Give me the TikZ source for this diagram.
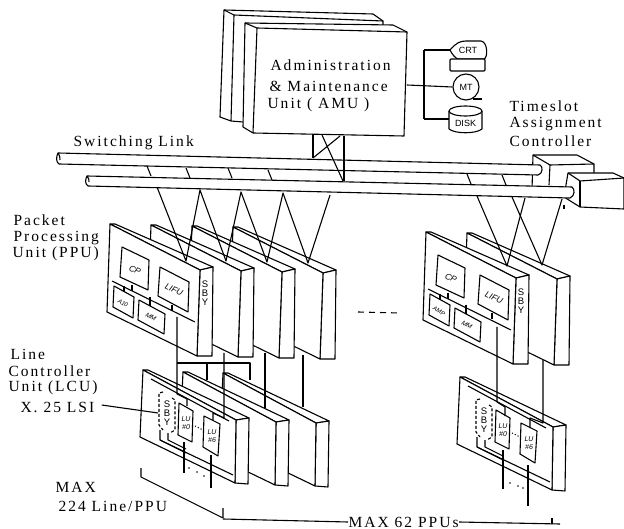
\documentclass[tikz,border=0pt]{standalone}
\usepackage{fontspec}
\usepackage{tikz}
\usetikzlibrary{positioning}
\newfontfamily\lblfont[LetterSpace=13]{Liberation Serif}
\newfontfamily\tagfont{Liberation Sans}

\begin{document}
\begin{tikzpicture}[x=1pt, y=-1pt, line width=1.1pt, line join=round,
    lbl/.style={font=\lblfont\fontsize{15.5}{17}\selectfont, inner sep=0pt, anchor=west},
    tag/.style={font=\tagfont\itshape\fontsize{8.5}{9}\selectfont, inner sep=0pt},
    stk/.style={font=\tagfont\fontsize{9.5}{10}\selectfont, inner sep=0pt, align=center},
    dev/.style={font=\tagfont\fontsize{9}{10}\selectfont, inner sep=0pt},
    face/.style={draw, fill=white}]
\useasboundingbox (0,0) rectangle (624,529);
\fill[white] (0,0) rectangle (624,529);
%%-- Timeslot boxes --------------------------------------
\draw[face] (533,155) -- (577,155) -- (594,164) -- (594,190) -- (532,190) -- cycle;
\draw (550,165) -- (594,164);
\draw (533,155) -- (550,165) -- (549,185);
\draw[face] (568,173) -- (613,173) -- (624,178) -- (624,209) -- (580,207) -- (564,197) -- cycle;
\draw (568,173) -- (580,181) -- (624,178);
\draw (580,181) -- (580,207);
\draw (564,205) -- (564,209);
%%-- Rails -----------------------------------------------
\draw[face] (58,153) .. controls (56,157) and (56,162) .. (59,164) -- (538,175)
  .. controls (543,174) and (543,166) .. (540,165) -- cycle;
\draw (58,153) .. controls (60,156) and (60,158) .. (60,160);
\foreach \x/\y in {147/166,186/168,228/168,268/170,467/174,502/175}
  \draw (\x,\y) -- ++(4,10);
\draw[face] (87,176) .. controls (85,180) and (85,184) .. (88,186) -- (570,198)
  .. controls (575,196) and (575,189) .. (572,187) -- cycle;
\draw (87,176) .. controls (89,178) and (89,180) .. (89,182);
%%-- AMU stack -------------------------------------------
\draw[face] (224,10) -- (373,14) -- (383,21) -- (383,60) -- (243,122) -- (231,121) -- (220,117) -- cycle;
\draw (224,10) -- (234,15) -- (383,21);
\draw (234,15) -- (231,121);
\draw[face] (245,23) -- (393,25) -- (407,32) -- (404,136) -- (253,133) -- (243,127) -- cycle;
\draw (245,23) -- (257,28) -- (407,32);
\draw (257,28) -- (253,133);
\node[lbl] (amua) at (270,65) {Administration};
\node[lbl] (amub) at (269,86) {\& Maintenance};
\node[lbl] (amuc) at (267,105) {Unit ( AMU )};
%%-- AMU drop lines --------------------------------------
\draw (313,134) -- (313,158);
\draw (344,136) -- (344,181);
\draw (322,135) -- (343,181);
\draw (340,136) -- (313,158);
%%-- Peripherals -----------------------------------------
\coordinate (amuport) at (407,85);
\coordinate (busjoint) at (424,85);
\draw[face] (450,50) .. controls (456,43) and (460,41) .. (466,41) -- (481,41)
  .. controls (488,42) and (488,58) .. (484,59) -- (458,59) .. controls (455,58) and (452,54) .. (450,50) -- cycle;
\node[dev] (crt) at (468,50) {CRT};
\draw[face, rounded corners=1pt] (450,59) rectangle (485,71);
\node[dev, draw, circle, minimum size=26pt] (mt) at (466,87) {MT};
\draw (473,99) -- (482,99);
\draw[face] (449,111) -- (449,129) .. controls (455,134) and (476,134) .. (482,129) -- (482,111);
\draw[face] (465.5,111) ellipse (16.5 and 5);
\node[dev] (disk) at (465.5,123) {DISK};
\draw (amuport) -- (mt.west);
\draw (424,50) -- (424,119);
\draw (424,50) -- (450,50);
\draw (424,119) -- (449,119);
%%-- Link labels -----------------------------------------
\node[lbl] (swlink) at (73,143) {Switching Link};
\node[lbl] (tasa) at (509,106) {Timeslot};
\node[lbl] (tasb) at (509,124) {Assignment};
\node[lbl] (tasc) at (509,141) {Controller};
\node[lbl] (ppua) at (13,220) {Packet};
\node[lbl] (ppub) at (13,238) {Processing};
\node[lbl] (ppuc) at (12,254) {Unit (PPU)};
\node[lbl] (lcua) at (10,354) {Line};
\node[lbl] (lcub) at (8,371) {Controller};
\node[lbl] (lcuc) at (8,388) {Unit (LCU)};
\node[lbl] (lcud) at (20,407) {X. 25 LSI};
\node[lbl] (maxa) at (55,487) {MAX};
\node[lbl] (maxb) at (58,506) {224 Line/PPU};
\node[lbl] (maxc) at (348,522) {MAX 62 PPUs};
%%-- PPU cards, back to front ----------------------------
\foreach \dx/\dy in {123/3,82/2,41/1,0/0,357/9,316/8}{
  \begin{scope}[shift={(\dx,\dy)}]
    \draw[face] (110,224) -- (115,224) -- (213,267) -- (200,270) -- cycle;
    \draw[face] (200,270) -- (213,267) -- (212,356) -- (197,356) -- cycle;
    \draw[face] (110,224) -- (200,270) -- (197,356) -- (107,312) -- cycle;
  \end{scope}
}
%%-- PPU front details -----------------------------------
\foreach \dx/\dy/\lx/\amlbl in {0/0/0/A10,316/8/4/AMP}{
  \begin{scope}[shift={(\dx,\dy)}]
    \draw (112,281) -- (195,322);
    \draw[face] (122,247) -- (149,260) -- (148,290) -- (120,277) -- cycle;
    \draw[face] (160+\lx,267) -- (189+\lx,282) -- (188+\lx,312) -- (158+\lx,296) -- cycle;
    \draw[face] (114,286) -- (134,297) -- (133,318) -- (113,307) -- cycle;
    \draw[face] (139,300) -- (165,314) -- (164,334) -- (138,320) -- cycle;
    \draw (132,285) -- (132,291);
    \draw (124,286) -- (124,292);
    \draw (150,297) -- (150,306);
    \draw (172+\lx,305) -- (172+\lx,311);
    \node[tag, rotate=-25] (cp\dx) at (135,270) {CP};
    \node[tag, rotate=-25] (lifu\dx) at (174+\lx,290) {LIFU};
    \node[tag, rotate=-30, font=\tagfont\itshape\fontsize{6}{7}\selectfont] (aio\dx) at (123,303) {\amlbl};
    \node[tag, rotate=-30, font=\tagfont\itshape\fontsize{6.5}{7}\selectfont] (mm\dx) at (151,317) {MM};
    \node[stk] (sby\dx) at (205,293) {S\\[-1pt]B\\[-1pt]Y};
  \end{scope}
}
%%-- Lines from lower rail to PPU ------------------------
\coordinate (pa) at (186,261);
\coordinate (pb) at (226,261);
\coordinate (pc) at (267,262);
\coordinate (pd) at (308,263);
\coordinate (qa) at (507,266);
\coordinate (qb) at (542,265);
\draw (157,187) -- (pa) -- (200,190) -- (pb) -- (241,192) -- (pc) -- (283,193) -- (pd) -- (330,195);
\draw (477,196) -- (qa) -- (525,198);
\draw (512,197) -- (qb) -- (562,199);
%%-- LCU cards, back to front ----------------------------
\foreach \dx/\dy in {80/3,40/2,0/0,317/7}{
  \begin{scope}[shift={(\dx,\dy)}]
    \draw[face] (143,370) -- (148,370) -- (249,418) -- (236,420) -- cycle;
    \draw[face] (236,420) -- (249,418) -- (248,484) -- (235,483) -- cycle;
    \draw[face] (143,370) -- (236,420) -- (235,483) -- (140,437) -- cycle;
  \end{scope}
}
%%-- LCU front details -----------------------------------
\foreach \dx/\dy in {0/0,317/7}{
  \begin{scope}[shift={(\dx,\dy)}]
    \draw (151,379) -- (229,421);
    \draw[dashed, dash pattern=on 3pt off 2pt] (163,392) -- (159,393) -- (159,425) -- (163,430);
    \draw[dashed, dash pattern=on 3pt off 2pt] (172,398) -- (175,400) -- (175,430) -- (170,433);
    \node[stk] (sbyl\dx) at (167,413) {S\\[-1pt]B\\[-1pt]Y};
    \draw (160,430) -- (160,440) -- (233,475);
    \draw (168,433) -- (168,440) -- (186,449);
    \draw (160,440) -- (186,453);
    \draw[face] (179,403) -- (193,411) -- (192,442) -- (178,435) -- cycle;
    \draw[face] (204,416) -- (220,424) -- (218,456) -- (203,447) -- cycle;
    \node[tag, font=\tagfont\itshape\fontsize{7}{8}\selectfont, align=center] (lua\dx) at (186,423) {LU\\\#0};
    \node[tag, font=\tagfont\itshape\fontsize{7}{8}\selectfont, align=center] (lub\dx) at (212,436) {LU\\\#6};
    \draw[dotted] (195,426) -- (203,430);
  \end{scope}
}
%%-- PPU to LCU wires ------------------------------------
\draw (177,317) -- (177,394) -- (187,399) -- (187,406);
\draw (177,363) -- (250,363) -- (250,380);
\draw (207,363) -- (207,380);
\draw (224,353) -- (224,418) -- (213,413) -- (213,420);
\draw (265,353) -- (265,408);
\draw (303,355) -- (303,407);
\draw (497,327) -- (497,402) -- (505,407) -- (505,416);
\draw (543,360) -- (543,423) -- (530,418) -- (530,428);
%%-- Line drops ------------------------------------------
\draw (184,442) -- (184,473);
\draw (211,455) -- (211,488);
\draw (503,450) -- (503,489);
\draw (528,465) -- (528,506);
\foreach \x/\y in {189/468,197/472,204/476,510/483,518/486,523/488}
  \fill (\x,\y) circle (0.8);
%%-- Annotations -----------------------------------------
\draw (lcud.east) ++(7,-2) -- (158,413);
\draw[dashed, dash pattern=on 6pt off 5pt] (358,312) -- (400,313);
\draw (141,468) -- (141,477) -- (223,518) -- (223,508);
\draw (223,519) -- (maxc.west);
\draw (maxc.east) -- (560,524);
\draw (552,518) -- (552,524);
\end{tikzpicture}
\end{document}
